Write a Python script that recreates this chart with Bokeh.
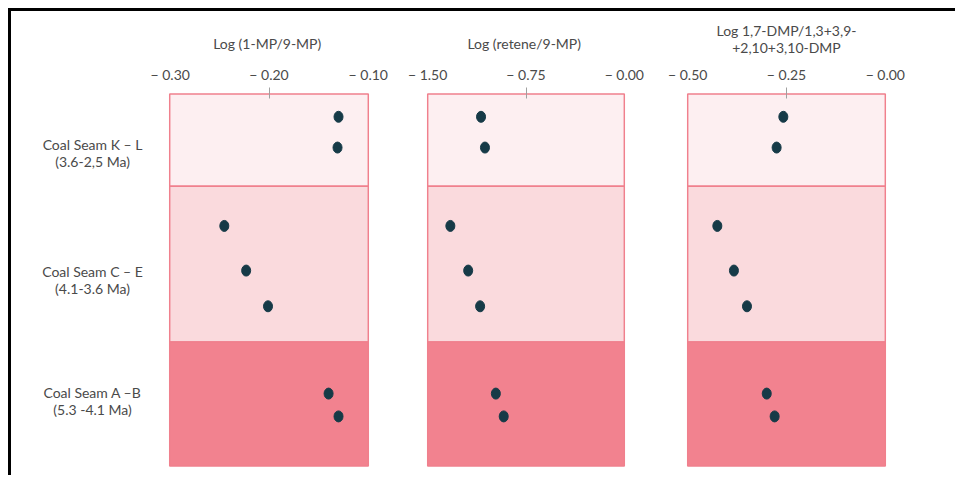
from bokeh.plotting import figure
from bokeh.layouts import row
from bokeh.models import Range1d, LinearAxis, FixedTicker, ColumnDataSource
from bokeh.core.properties import value
from bokeh.embed import file_html
from bokeh.resources import INLINE

# ---- data ----
group_labels = ["Coal Seam K \u2013 L\n(3.6-2,5 Ma)",
                "Coal Seam C \u2013 E\n(4.1-3.6 Ma)",
                "Coal Seam A \u2013B\n(5.3 -4.1 Ma)"]
group_bottom = [282, 125, 0]
group_top = [375, 282, 125]
group_label_y = [316, 188, 66]
group_fill = ["#FDEFF1", "#FADADD", "#F2828F"]

sample_y = [352, 321, 242, 197, 161, 73, 50]
mp_ratio = [-0.130, -0.131, -0.245, -0.223, -0.201, -0.140, -0.130]
retene_ratio = [-1.093, -1.063, -1.327, -1.191, -1.100, -0.980, -0.920]
dmp_ratio = [-0.258, -0.275, -0.425, -0.383, -0.350, -0.300, -0.280]

titles = ["Log  (1-MP/9-MP)", "Log  (retene/9-MP)", "Log 1,7-DMP/1,3+3,9-\n+2,10+3,10-DMP"]
x_ticks = [[-0.30, -0.20, -0.10], [-1.50, -0.75, 0.0], [-0.50, -0.25, 0.0]]
x_tick_labels = [["\u2212 0.30", "\u2212 0.20", "\u2212 0.10"],
                 ["\u2212 1.50", "\u2212 0.75", "\u2212 0.00"],
                 ["\u2212 0.50", "\u2212 0.25", "\u2212 0.00"]]

FONT = "Lato"
TXT = "#4A4A4A"
H = 464
TOP = 81
BOT = 8
Y0, Y1 = -1.5, 376.5


def label_fig(width):
    p = figure(width=width, height=H, x_range=Range1d(0, 1), y_range=Range1d(Y0, Y1),
               output_backend="svg", toolbar_location=None,
               x_axis_location=None, y_axis_location=None,
               min_border_left=0, min_border_right=0, min_border_top=TOP, min_border_bottom=BOT)
    p.outline_line_color = None
    p.xgrid.visible = False
    p.ygrid.visible = False
    p.text(x=[0.583] * 3, y=group_label_y, text=group_labels, text_align="center",
           text_baseline="middle", text_font=value(FONT), text_font_size="14px",
           text_color=TXT, text_line_height=1.0)
    return p


def panel(vals, ticks, labels, title, bl, fw, br, title_standoff):
    span = ticks[-1] - ticks[0]
    pad = span * 0.006
    p = figure(width=bl + fw + br, height=H,
               x_range=Range1d(ticks[0] - pad, ticks[-1] + pad), y_range=Range1d(Y0, Y1),
               output_backend="svg", toolbar_location=None,
               x_axis_location=None, y_axis_location=None,
               min_border_left=bl, min_border_right=br, min_border_top=TOP, min_border_bottom=BOT)
    p.outline_line_color = None
    p.xgrid.visible = False
    p.ygrid.visible = False

    src = ColumnDataSource(dict(left=[ticks[0]] * 3, right=[ticks[-1]] * 3,
                                bottom=group_bottom, top=group_top, fill=group_fill))
    p.quad(left="left", right="right", bottom="bottom", top="top", source=src,
           fill_color="fill", line_color="#F0808D", line_width=1.5)

    p.ellipse(x=vals, y=sample_y, width=9, height=11, width_units="screen", height_units="screen",
              fill_color="#163A47", line_color="#163A47")

    # tick-mark-only axis (nearest the frame)
    tick_axis = LinearAxis(ticker=FixedTicker(ticks=[ticks[1]]))
    tick_axis.axis_line_color = None
    tick_axis.major_tick_line_color = "#A0A0A0"
    tick_axis.major_tick_in = 6
    tick_axis.major_tick_out = 5
    tick_axis.minor_tick_line_color = None
    tick_axis.major_label_text_font_size = "0px"
    tick_axis.major_label_standoff = 0
    tick_axis.major_label_overrides = {ticks[1]: ""}
    p.add_layout(tick_axis, "above")

    # labels axis
    lab_axis = LinearAxis(ticker=FixedTicker(ticks=ticks), axis_label=title)
    lab_axis.axis_line_color = None
    lab_axis.major_tick_line_color = None
    lab_axis.minor_tick_line_color = None
    lab_axis.major_tick_in = 0
    lab_axis.major_tick_out = 0
    lab_axis.major_label_overrides = {t: l for t, l in zip(ticks, labels)}
    lab_axis.major_label_text_font = FONT
    lab_axis.major_label_text_font_size = "14px"
    lab_axis.major_label_text_color = TXT
    lab_axis.major_label_standoff = 5
    lab_axis.axis_label_text_font = FONT
    lab_axis.axis_label_text_font_size = "14px"
    lab_axis.axis_label_text_font_style = "normal"
    lab_axis.axis_label_text_color = TXT
    lab_axis.axis_label_text_line_height = 1.0
    lab_axis.axis_label_standoff = title_standoff
    p.add_layout(lab_axis, "above")
    return p


labels = label_fig(139)
p1 = panel(mp_ratio, x_ticks[0], x_tick_labels[0], titles[0], 18, 201, 28, 11)
p2 = panel(retene_ratio, x_ticks[1], x_tick_labels[1], titles[1], 29, 199, 30, 11)
p3 = panel(dmp_ratio, x_ticks[2], x_tick_labels[2], titles[2], 31, 200, 69, 7)

layout = row(labels, p1, p2, p3,
             styles={"margin-top": "8px", "margin-left": "8px",
                     "border-top": "3px solid black", "border-left": "3px solid black"})

open("out.html", "w").write(file_html(layout, INLINE))
